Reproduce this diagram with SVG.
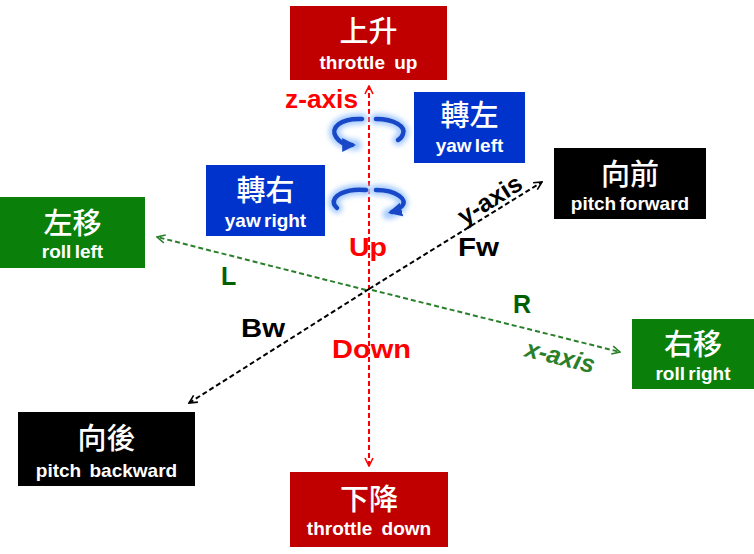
<svg xmlns="http://www.w3.org/2000/svg" width="754" height="554" viewBox="0 0 754 554">
<defs>
<style>
.zh{font-family:"Noto Sans CJK TC","Noto Sans CJK SC",sans-serif;font-size:29px;font-weight:500;fill:#fff;text-anchor:middle}
.en{font-family:"Liberation Sans",Arial,sans-serif;font-weight:bold;font-size:19px;fill:#fff;text-anchor:middle}
.lbl{font-family:"Liberation Sans",Arial,sans-serif;font-weight:bold;font-size:25px}
.red{fill:#C00000}.blue{fill:#0033CC}.green{fill:#0A7F0A}.black{fill:#000}
.yaw{fill:none;stroke:#1848C8;stroke-width:4.5;stroke-linecap:round}
.glow{fill:none;stroke:#A8CCFF;stroke-width:11;stroke-linecap:round;filter:url(#blur)}
</style>
<filter id="blur" x="-50%" y="-50%" width="200%" height="200%"><feGaussianBlur stdDeviation="2.5"/></filter>
<marker id="ar" viewBox="0 0 10 10" refX="9" refY="5" markerWidth="10" markerHeight="10" markerUnits="userSpaceOnUse" orient="auto-start-reverse"><path d="M1,1 L9,5 L1,9" fill="none" stroke="#FF0000" stroke-width="1.6"/></marker>
<marker id="ag" viewBox="0 0 10 10" refX="9" refY="5" markerWidth="10" markerHeight="10" markerUnits="userSpaceOnUse" orient="auto"><path d="M1,1 L9,5 L1,9" fill="none" stroke="#2A7F2A" stroke-width="1.6"/></marker>
<marker id="ak" viewBox="0 0 10 10" refX="9" refY="5" markerWidth="10" markerHeight="10" markerUnits="userSpaceOnUse" orient="auto"><path d="M1,1 L9,5 L1,9" fill="none" stroke="#000" stroke-width="1.6"/></marker>
<marker id="ab" viewBox="0 0 10 10" refX="7" refY="5" markerWidth="14" markerHeight="14" markerUnits="userSpaceOnUse" orient="auto"><path d="M0,0 L10,5 L0,10 Z" fill="#1848C8"/></marker>
</defs>
<rect width="754" height="554" fill="#fff"/>

<g id="connectors">
<line x1="369" y1="466" x2="369" y2="86" stroke="#FF0000" stroke-width="2" stroke-dasharray="5,3" marker-start="url(#ar)" marker-end="url(#ar)"/>
<line x1="366" y1="290" x2="157" y2="237" stroke="#2A7F2A" stroke-width="2" stroke-dasharray="5,3" marker-end="url(#ag)"/>
<line x1="372" y1="290" x2="620" y2="352" stroke="#2A7F2A" stroke-width="2" stroke-dasharray="5,3" marker-end="url(#ag)"/>
<line x1="369" y1="289" x2="542" y2="182" stroke="#000" stroke-width="2" stroke-dasharray="5,3" marker-end="url(#ak)"/>
<line x1="369" y1="289" x2="189" y2="403" stroke="#000" stroke-width="2" stroke-dasharray="5,3" marker-end="url(#ak)"/>
</g>

<g id="yaw-arrows">
<path class="glow" d="M362,119 C340,118 330,128 336,137 C340,143 350,145 356,145"/>
<path class="glow" d="M376,119 C395,119 406,127 403,134 C402,137 400,139 398,140"/>
<path class="glow" d="M366,190 C345,188 332,196 334,204 C335,206 336,207 337,208"/>
<path class="glow" d="M376,190 C397,190 408,200 400,208 C396,212 392,213 388,214"/>
<path class="yaw" d="M362,119 C340,118 330,128 336,137 C340,143 347,145 352,145" marker-end="url(#ab)"/>
<path class="yaw" d="M376,119 C395,119 406,127 403,134 C402,137 400,139 398,140"/>
<path class="yaw" d="M366,190 C345,188 332,196 334,204 C335,206 336,207 337,208"/>
<path class="yaw" d="M376,190 C397,190 408,200 402,206 C399,209 396,211 392,212" marker-end="url(#ab)"/>
</g>

<g id="labels">
<text class="lbl" x="285" y="108" fill="#FF0000" textLength="73" lengthAdjust="spacingAndGlyphs">z-axis</text>
<text class="lbl" x="349" y="256" fill="#FF0000" textLength="38" lengthAdjust="spacingAndGlyphs">Up</text>
<text class="lbl" x="332" y="358" fill="#FF0000" textLength="79" lengthAdjust="spacingAndGlyphs">Down</text>
<text class="lbl" x="458" y="256" fill="#000" textLength="41" lengthAdjust="spacingAndGlyphs">Fw</text>
<text class="lbl" x="241" y="337" fill="#000" textLength="44" lengthAdjust="spacingAndGlyphs">Bw</text>
<text class="lbl" x="221" y="285" fill="#006000">L</text>
<text class="lbl" x="513" y="313" fill="#006000">R</text>
<text class="lbl" font-size="24" font-style="italic" fill="#2A7F2A" text-anchor="middle" transform="translate(560,357) rotate(14)" x="0" y="8">x-axis</text>
<text class="lbl" font-size="24" fill="#000" text-anchor="middle" transform="translate(490,200) rotate(-32)" x="0" y="8">y-axis</text>
</g>

<g id="node-up"><rect class="red" x="290" y="6" width="157" height="74"/><text class="zh" x="368.5" y="42">上升</text><text class="en" x="368.5" y="69" word-spacing="4">throttle up</text></g>
<g id="node-down"><rect class="red" x="290" y="472" width="158" height="75"/><text class="zh" x="369" y="510">下降</text><text class="en" x="369" y="535" word-spacing="4">throttle down</text></g>
<g id="node-yawleft"><rect class="blue" x="414" y="92" width="111" height="71"/><text class="zh" x="469.5" y="126">轉左</text><text class="en" x="469.5" y="152" word-spacing="-2">yaw left</text></g>
<g id="node-yawright"><rect class="blue" x="206" y="165" width="119" height="71"/><text class="zh" x="265.5" y="201">轉右</text><text class="en" x="265.5" y="227" word-spacing="-2">yaw right</text></g>
<g id="node-forward"><rect class="black" x="554" y="148" width="152" height="71"/><text class="zh" x="630" y="185">向前</text><text class="en" x="630" y="210" word-spacing="-2">pitch forward</text></g>
<g id="node-backward"><rect class="black" x="18" y="412" width="177" height="74"/><text class="zh" x="106.5" y="449">向後</text><text class="en" x="106.5" y="477" word-spacing="3">pitch backward</text></g>
<g id="node-rollleft"><rect class="green" x="0" y="197" width="145" height="71"/><text class="zh" x="72.5" y="234">左移</text><text class="en" x="72.5" y="258" word-spacing="-2">roll left</text></g>
<g id="node-rollright"><rect class="green" x="632" y="319" width="122" height="70"/><text class="zh" x="693" y="355">右移</text><text class="en" x="693" y="380" word-spacing="-2">roll right</text></g>
</svg>
